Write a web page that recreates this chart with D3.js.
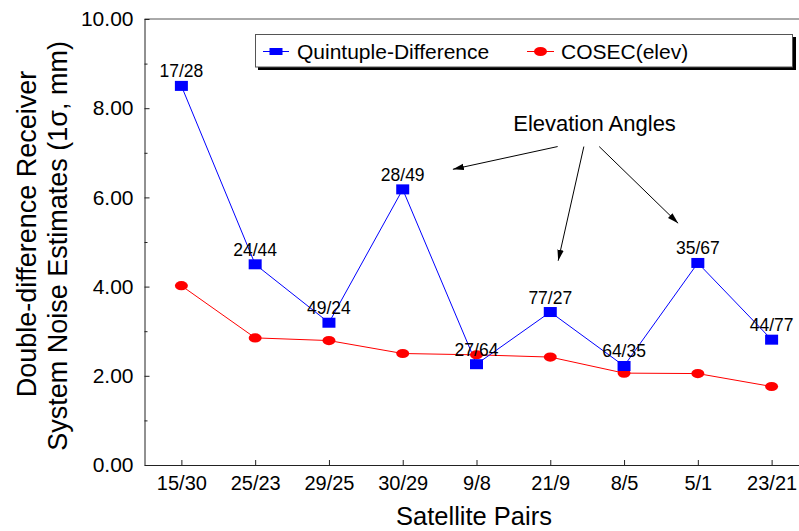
<!DOCTYPE html>
<html>
<head>
<meta charset="utf-8">
<script src="https://cdn.jsdelivr.net/npm/d3@7"></script>
<style>
  html, body { margin: 0; padding: 0; background: #fff; }
  svg { display: block; font-family: "Liberation Sans", Arial, Helvetica, sans-serif; }
</style>
</head>
<body>
<div id="chart"></div>
<script>
  // Satellite pairs on the x axis
  const categories = ['15/30', '25/23', '29/25', '30/29', '9/8', '21/9', '8/5', '5/1', '23/21'];
  // Noise estimates (1 sigma, mm)
  const quintuple = [8.50, 4.50, 3.19, 6.18, 2.26, 3.43, 2.22, 4.53, 2.81];
  const cosec = [4.02, 2.85, 2.79, 2.50, 2.47, 2.42, 2.06, 2.05, 1.76];
  // Elevation angle labels above the quintuple-difference points
  const elevLabels = ['17/28', '24/44', '49/24', '28/49', '27/64', '77/27', '64/35', '35/67', '44/77'];
  const yMajorTicks = [0, 2, 4, 6, 8, 10];
  const yMinorTicks = [1, 3, 5, 7, 9];
  // Arrows from the "Elevation Angles" note, in (category index, value) units
  const arrowStarts = [[5.10, 7.14], [5.455, 7.14], [5.663, 7.14]];
  const arrowEnds = [[3.68, 6.63], [5.107, 4.58], [6.733, 5.42]];

  const W = 799, H = 531;
  const plot = { left: 144.5, right: 808.5, top: 19, bottom: 465 };

  const svg = d3.select('#chart').append('svg')
    .attr('width', W)
    .attr('height', H)
    .style('overflow', 'hidden');

  const x = d3.scalePoint()
    .domain(categories)
    .range([plot.left, plot.right])
    .padding(0.5);

  const y = d3.scaleLinear()
    .domain([0, 10])
    .range([plot.bottom, plot.top]);

  // fractional category index -> pixel
  function xi(i) { return x(categories[0]) + i * x.step(); }

  svg.append('defs').append('marker')
    .attr('id', 'arrowhead')
    .attr('markerUnits', 'userSpaceOnUse')
    .attr('markerWidth', 12)
    .attr('markerHeight', 8)
    .attr('refX', 11)
    .attr('refY', 4)
    .attr('orient', 'auto')
    .append('path')
    .attr('d', 'M0,0.8 L11,4 L0,7.2 Z')
    .attr('fill', '#000');

  // frame: top and right lines
  svg.append('line')
    .attr('x1', plot.left).attr('x2', plot.right)
    .attr('y1', plot.top).attr('y2', plot.top)
    .attr('stroke', '#555').attr('stroke-width', 1);
  svg.append('line')
    .attr('x1', plot.right).attr('x2', plot.right)
    .attr('y1', plot.top).attr('y2', plot.bottom)
    .attr('stroke', '#555').attr('stroke-width', 1);

  // --- Y axis ---
  const yAxis = svg.append('g')
    .attr('transform', 'translate(' + plot.left + ',0)')
    .call(d3.axisLeft(y)
      .tickValues(yMajorTicks)
      .tickSize(-5)
      .tickSizeOuter(0)
      .tickPadding(11)
      .tickFormat(d3.format('.2f')));
  yAxis.selectAll('text')
    .attr('font-size', '21px')
    .attr('font-family', '"Liberation Sans", Arial, sans-serif')
    .attr('fill', '#000');
  yAxis.selectAll('line, path').attr('stroke', '#222');

  svg.append('g')
    .attr('transform', 'translate(' + plot.left + ',0)')
    .call(d3.axisLeft(y)
      .tickValues(yMinorTicks)
      .tickSize(-3)
      .tickSizeOuter(0)
      .tickFormat(''))
    .call(function (g) { g.select('.domain').remove(); })
    .selectAll('line').attr('stroke', '#222');

  // --- X axis ---
  const xAxis = svg.append('g')
    .attr('transform', 'translate(0,' + plot.bottom + ')')
    .call(d3.axisBottom(x)
      .tickSize(-5)
      .tickSizeOuter(0)
      .tickPadding(11));
  xAxis.selectAll('text')
    .attr('font-size', '20px')
    .attr('font-family', '"Liberation Sans", Arial, sans-serif')
    .attr('fill', '#000');
  xAxis.selectAll('line, path').attr('stroke', '#222');

  // axis titles
  svg.append('text')
    .attr('transform', 'translate(35.5,234) rotate(-90)')
    .attr('text-anchor', 'middle')
    .attr('font-size', '27px')
    .text('Double-difference Receiver');
  svg.append('text')
    .attr('transform', 'translate(67,246) rotate(-90)')
    .attr('text-anchor', 'middle')
    .attr('font-size', '27px')
    .text('System Noise Estimates (1σ, mm)');
  svg.append('text')
    .attr('x', 474)
    .attr('y', 525)
    .attr('text-anchor', 'middle')
    .attr('font-size', '25.5px')
    .text('Satellite Pairs');

  // --- series ---
  const line = d3.line()
    .x(function (d, i) { return x(categories[i]); })
    .y(function (d) { return y(d); });

  svg.append('path')
    .datum(cosec)
    .attr('d', line)
    .attr('fill', 'none')
    .attr('stroke', '#ff0000')
    .attr('stroke-width', 1);

  svg.append('path')
    .datum(quintuple)
    .attr('d', line)
    .attr('fill', 'none')
    .attr('stroke', '#0000ff')
    .attr('stroke-width', 1);

  svg.append('g').selectAll('ellipse')
    .data(cosec)
    .join('ellipse')
    .attr('cx', function (d, i) { return x(categories[i]); })
    .attr('cy', function (d) { return y(d); })
    .attr('rx', 6.5)
    .attr('ry', 4.6)
    .attr('fill', '#ff0000');

  svg.append('g').selectAll('rect')
    .data(quintuple)
    .join('rect')
    .attr('x', function (d, i) { return x(categories[i]) - 6.5; })
    .attr('y', function (d) { return y(d) - 5; })
    .attr('width', 13)
    .attr('height', 10)
    .attr('fill', '#0000ff');

  svg.append('g').selectAll('text')
    .data(quintuple)
    .join('text')
    .attr('x', function (d, i) { return x(categories[i]); })
    .attr('y', function (d) { return y(d) - 8.5; })
    .attr('text-anchor', 'middle')
    .attr('font-size', '17.5px')
    .text(function (d, i) { return elevLabels[i]; });

  // --- annotation ---
  svg.append('text')
    .attr('x', xi(5.60))
    .attr('y', y(7.49))
    .attr('text-anchor', 'middle')
    .attr('font-size', '22px')
    .text('Elevation Angles');

  svg.append('g').selectAll('line')
    .data(arrowStarts)
    .join('line')
    .attr('x1', function (d) { return xi(d[0]); })
    .attr('y1', function (d) { return y(d[1]); })
    .attr('x2', function (d, i) { return xi(arrowEnds[i][0]); })
    .attr('y2', function (d, i) { return y(arrowEnds[i][1]); })
    .attr('stroke', '#000')
    .attr('stroke-width', 1)
    .attr('marker-end', 'url(#arrowhead)');

  // --- legend ---
  const legend = svg.append('g');
  legend.append('rect')
    .attr('x', 258).attr('y', 37)
    .attr('width', 538).attr('height', 33)
    .attr('fill', '#000');
  legend.append('rect')
    .attr('x', 255.5).attr('y', 34.5)
    .attr('width', 537).attr('height', 32.5)
    .attr('fill', '#fff')
    .attr('stroke', '#555')
    .attr('stroke-width', 1);

  legend.append('line')
    .attr('x1', 263).attr('x2', 289).attr('y1', 51.5).attr('y2', 51.5)
    .attr('stroke', '#0000ff');
  legend.append('rect')
    .attr('x', 269.5).attr('y', 48).attr('width', 13).attr('height', 7)
    .attr('fill', '#0000ff');
  legend.append('text')
    .attr('x', 297).attr('y', 59)
    .attr('font-size', '21px')
    .text('Quintuple-Difference');

  legend.append('line')
    .attr('x1', 527).attr('x2', 554).attr('y1', 51.5).attr('y2', 51.5)
    .attr('stroke', '#ff0000');
  legend.append('ellipse')
    .attr('cx', 540.5).attr('cy', 51.5).attr('rx', 6.5).attr('ry', 4.6)
    .attr('fill', '#ff0000');
  legend.append('text')
    .attr('x', 561).attr('y', 59)
    .attr('font-size', '21px')
    .text('COSEC(elev)');
</script>
</body>
</html>
